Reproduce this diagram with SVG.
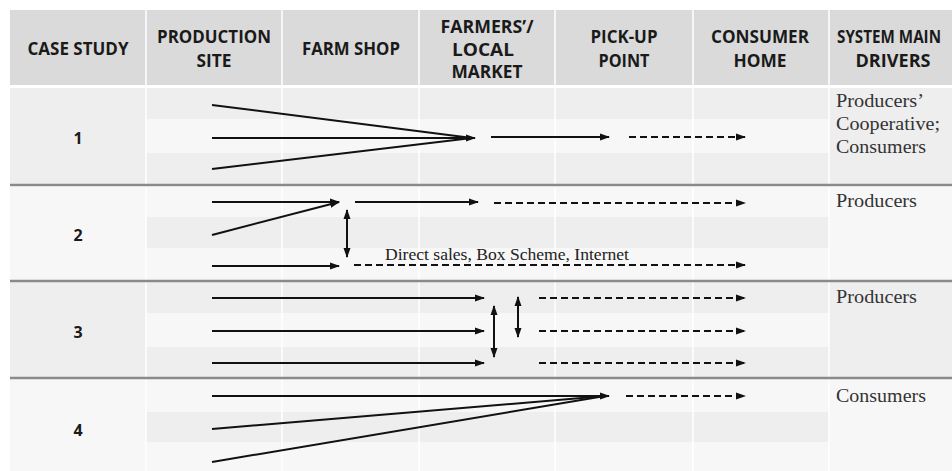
<svg xmlns="http://www.w3.org/2000/svg" width="952" height="471" viewBox="0 0 952 471">
<defs>
<style>
.hdr{fill:#dadada}
.dk{fill:#eeeeee}
.lt{fill:#f7f7f7}
.ht{font-family:"Open Sans","DejaVu Sans",sans-serif;font-weight:bold;font-size:17px;fill:#1a1a1a;text-anchor:middle}
.num{font-family:"Open Sans","DejaVu Sans",sans-serif;font-weight:bold;font-size:16px;fill:#1a1a1a;text-anchor:middle}
.dr{font-family:"Liberation Serif","Times New Roman",serif;font-size:18px;fill:#333}
.lbl{font-family:"Liberation Serif","Times New Roman",serif;font-size:16px;fill:#222}
.sep{stroke:#8a8a8a;stroke-width:2.5}
.ln{stroke:#111;stroke-width:2;fill:none}
.ar{stroke:#111;stroke-width:2;fill:none;marker-end:url(#ah)}
.da{stroke:#111;stroke-width:2;fill:none;stroke-dasharray:7,4;marker-end:url(#ah)}
.dbl{stroke:#111;stroke-width:2;fill:none;marker-start:url(#ahs);marker-end:url(#ah)}
</style>
<marker id="ah" markerWidth="10" markerHeight="8" refX="9" refY="4" orient="auto" markerUnits="userSpaceOnUse"><path d="M0,0.5 L10,4 L0,7.5 Z" fill="#111"/></marker>
<marker id="ahs" markerWidth="10" markerHeight="8" refX="1" refY="4" orient="auto" markerUnits="userSpaceOnUse"><path d="M10,0.5 L0,4 L10,7.5 Z" fill="#111"/></marker>
</defs>
<rect width="952" height="471" fill="#ffffff"/>
<g id="table">
<rect class="hdr" x="10" y="10" width="942" height="75"/>
<rect class="dk" x="10" y="88" width="942" height="96"/>
<rect class="lt" x="146" y="119" width="683" height="34"/>
<rect class="lt" x="10" y="187" width="942" height="93"/>
<rect class="dk" x="146" y="217" width="683" height="31"/>
<rect class="dk" x="10" y="282" width="942" height="95"/>
<rect class="lt" x="146" y="313" width="683" height="34"/>
<rect class="lt" x="10" y="379" width="942" height="92"/>
<rect class="dk" x="146" y="412" width="683" height="30"/>
<g stroke="#ffffff" stroke-width="1.5">
<line x1="146" y1="10" x2="146" y2="471"/>
<line x1="282" y1="10" x2="282" y2="471"/>
<line x1="419" y1="10" x2="419" y2="471"/>
<line x1="555" y1="10" x2="555" y2="471"/>
<line x1="693" y1="10" x2="693" y2="471"/>
<line x1="829" y1="10" x2="829" y2="471"/>
</g>
<line class="sep" x1="10" y1="185" x2="952" y2="185"/>
<line class="sep" x1="10" y1="281" x2="952" y2="281"/>
<line class="sep" x1="10" y1="378" x2="952" y2="378"/>
</g>
<g id="header">
<text class="ht" x="78" y="55" textLength="101" lengthAdjust="spacingAndGlyphs">CASE STUDY</text>
<text class="ht" x="214" y="43" textLength="114" lengthAdjust="spacingAndGlyphs">PRODUCTION</text>
<text class="ht" x="214" y="67" textLength="35" lengthAdjust="spacingAndGlyphs">SITE</text>
<text class="ht" x="351" y="55" textLength="98" lengthAdjust="spacingAndGlyphs">FARM SHOP</text>
<text class="ht" x="487" y="33" textLength="93" lengthAdjust="spacingAndGlyphs">FARMERS’/</text>
<text class="ht" x="483" y="56" textLength="62" lengthAdjust="spacingAndGlyphs">LOCAL</text>
<text class="ht" x="487" y="78" textLength="71" lengthAdjust="spacingAndGlyphs">MARKET</text>
<text class="ht" x="624" y="43" textLength="67" lengthAdjust="spacingAndGlyphs">PICK-UP</text>
<text class="ht" x="624" y="67" textLength="51" lengthAdjust="spacingAndGlyphs">POINT</text>
<text class="ht" x="760" y="43" textLength="98" lengthAdjust="spacingAndGlyphs">CONSUMER</text>
<text class="ht" x="760" y="67" textLength="53" lengthAdjust="spacingAndGlyphs">HOME</text>
<text class="ht" x="0" y="0" transform="translate(889,43) scale(1,1.13)" style="font-size:15px" textLength="104" lengthAdjust="spacingAndGlyphs">SYSTEM MAIN</text>
<text class="ht" x="893" y="67" textLength="75" lengthAdjust="spacingAndGlyphs">DRIVERS</text>
</g>
<g id="case1">
<text class="num" x="78" y="144">1</text>
<text class="dr" x="836" y="107" textLength="88" lengthAdjust="spacingAndGlyphs">Producers’</text>
<text class="dr" x="836" y="130" textLength="104" lengthAdjust="spacingAndGlyphs">Cooperative;</text>
<text class="dr" x="836" y="153" textLength="90" lengthAdjust="spacingAndGlyphs">Consumers</text>
</g>
<g id="case2">
<text class="num" x="78" y="241">2</text>
<text class="dr" x="836" y="207" textLength="81" lengthAdjust="spacingAndGlyphs">Producers</text>
<text class="lbl" x="385" y="260" textLength="244" lengthAdjust="spacingAndGlyphs">Direct sales, Box Scheme, Internet</text>
</g>
<g id="case3">
<text class="num" x="78" y="338">3</text>
<text class="dr" x="836" y="303" textLength="81" lengthAdjust="spacingAndGlyphs">Producers</text>
</g>
<g id="case4">
<text class="num" x="78" y="436">4</text>
<text class="dr" x="836" y="402" textLength="90" lengthAdjust="spacingAndGlyphs">Consumers</text>
</g>
<g id="connectors">
<line class="ln" x1="212" y1="105" x2="472" y2="138"/>
<line class="ln" x1="212" y1="169" x2="472" y2="138"/>
<line class="ar" x1="212" y1="138" x2="475" y2="138"/>
<line class="ar" x1="491" y1="137" x2="609" y2="137"/>
<line class="da" x1="629" y1="137" x2="745" y2="137"/>

<line class="ar" x1="212" y1="202" x2="339" y2="202"/>
<line class="ar" x1="212" y1="235" x2="339" y2="202"/>
<line class="ar" x1="212" y1="266" x2="339" y2="266"/>
<line class="dbl" x1="347" y1="210" x2="347" y2="257"/>
<line class="ar" x1="355" y1="202" x2="478" y2="202"/>
<line class="da" x1="494" y1="203" x2="745" y2="203"/>
<line class="da" x1="354" y1="265" x2="745" y2="265"/>

<line class="ar" x1="212" y1="298" x2="484" y2="298"/>
<line class="ar" x1="212" y1="331" x2="484" y2="331"/>
<line class="ar" x1="212" y1="363" x2="484" y2="363"/>
<line class="dbl" x1="494" y1="306" x2="494" y2="357"/>
<line class="dbl" x1="518" y1="297" x2="518" y2="337"/>
<line class="da" x1="539" y1="298" x2="745" y2="298"/>
<line class="da" x1="539" y1="331" x2="745" y2="331"/>
<line class="da" x1="539" y1="363" x2="745" y2="363"/>

<line class="ln" x1="212" y1="429" x2="605" y2="396"/>
<line class="ln" x1="212" y1="462" x2="605" y2="396"/>
<line class="ar" x1="212" y1="396" x2="609" y2="396"/>
<line class="da" x1="626" y1="396" x2="745" y2="396"/>
</g>
</svg>
